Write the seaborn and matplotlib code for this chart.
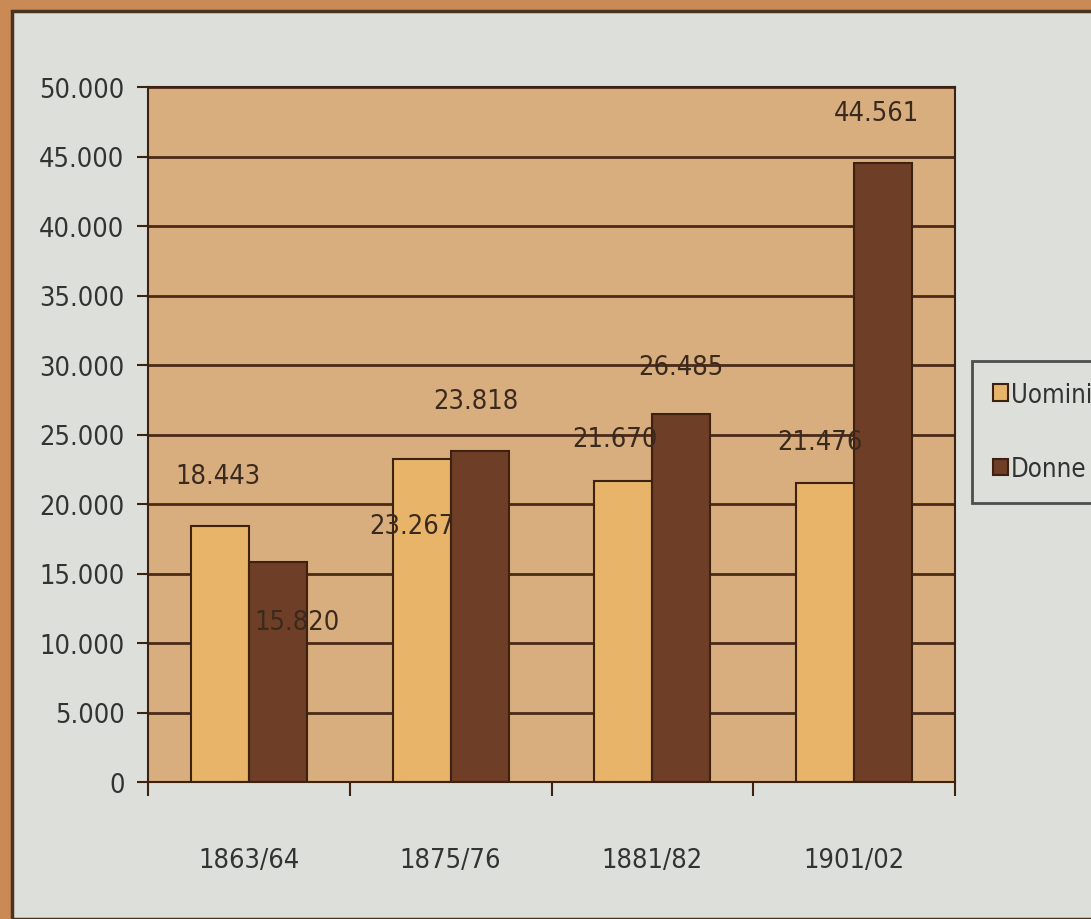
import matplotlib
matplotlib.use("Agg")
import matplotlib.pyplot as plt
import seaborn as sns
import pandas as pd
from matplotlib import font_manager
from matplotlib.patches import Rectangle
from matplotlib.ticker import FuncFormatter, FixedLocator

categories = ["1863/64", "1875/76", "1881/82", "1901/02"]
uomini = [18443, 23267, 21670, 21476]
donne = [15820, 23818, 26485, 44561]
series_names = ["Uomini", "Donne"]
y_ticks = [0, 5000, 10000, 15000, 20000, 25000, 30000, 35000, 40000, 45000, 50000]

# label offsets in pixels (dx, dy) relative to bar top centre
u_off = [(-2, 50), (-10, -67), (-8, 42), (-5, 41)]
d_off = [(19, -60), (-4, 50), (-1, 47), (-7, 50)]

sns.set_theme(style="white")

# pick a condensed face if one is installed
ttf = font_manager.fontManager.ttflist
names = {f.name for f in ttf}
fam = ['Liberation Sans', 'DejaVu Sans']
stretch = 'normal'
fs = 20
if 'Liberation Sans Narrow' in names:
    fam = ['Liberation Sans Narrow', 'DejaVu Sans']
    fs = 24
elif any(f.name == 'DejaVu Sans' and f.stretch in ('condensed', 'semi-condensed') for f in ttf):
    fam = ['DejaVu Sans']
    stretch = 'condensed'
    fs = 19.5
plt.rcParams['font.family'] = fam
plt.rcParams['font.stretch'] = stretch

df = pd.DataFrame({
    "Periodo": categories * 2,
    "Valore": uomini + donne,
    "Sesso": [series_names[0]] * 4 + [series_names[1]] * 4,
})

W, H = 1091, 920
fig = plt.figure(figsize=(W / 100, H / 100), dpi=100)
fig.patch.set_facecolor("#c98a55")
fig.patches.append(Rectangle((12 / W, 0), 1.2, 1 - 12 / H, transform=fig.transFigure,
                             facecolor="#dcdfda", edgecolor="#4a3320", linewidth=2.5, zorder=-10))

ax = fig.add_axes([148 / W, 137 / H, (955 - 148) / W, (783 - 88) / H])
ax.set_facecolor("#d8ae7f")
ax.set_axisbelow(True)

palette = {"Uomini": "#e8b46a", "Donne": "#6e3e26"}
sns.barplot(data=df, x="Periodo", y="Valore", hue="Sesso", order=categories,
            hue_order=series_names, palette=palette, width=0.575, saturation=1,
            edgecolor="#3d2212", linewidth=1.5, ax=ax, legend=True)

ax.set_ylim(0, 50000)
ax.set_xlim(-0.5, 3.5)
ax.yaxis.set_major_locator(FixedLocator(y_ticks))
ax.yaxis.set_major_formatter(FuncFormatter(lambda v, p: f"{int(v):,}".replace(",", ".")))
ax.grid(axis="y", color="#4a2a18", linewidth=2)
ax.grid(axis="x", visible=False)
ax.set_xlabel("")
ax.set_ylabel("")

ax.tick_params(axis="y", which="major", length=8, width=1.5, color="#3d2212",
               labelsize=fs, labelcolor="#333333", pad=9, left=True, direction="out")
ax.tick_params(axis="x", which="major", length=0, labelsize=fs, labelcolor="#333333", pad=47)
ax.set_xticks([-0.5, 0.5, 1.5, 2.5, 3.5], minor=True)
ax.tick_params(axis="x", which="minor", length=10, width=1.5, color="#3d2212",
               bottom=True, direction="out")

for s in ax.spines.values():
    s.set_color("#3d2212")
    s.set_linewidth(1.5)

def fmt(v):
    return f"{v:,}".replace(",", ".")

k = 72 / 100
for cont, offs in zip(ax.containers[:2], [u_off, d_off]):
    for bar, (dx, dy) in zip(cont, offs):
        x = bar.get_x() + bar.get_width() / 2
        h = bar.get_height()
        ax.annotate(fmt(int(round(h))), xy=(x, h), xytext=(dx * k, dy * k),
                    textcoords="offset points", ha="center", va="center",
                    fontsize=fs, color="#3a2a1e", zorder=5)

leg = ax.legend(loc="upper left", bbox_to_anchor=(972 / W, 1 - 362 / H),
                bbox_transform=fig.transFigure, fontsize=18.5, frameon=True,
                handlelength=0.6, handleheight=0.6, handletextpad=0.1,
                labelspacing=1.9, borderpad=0.8, borderaxespad=0, fancybox=False)
leg.get_frame().set_edgecolor("#2a2a2a")
leg.get_frame().set_linewidth(2)
leg.get_frame().set_facecolor("#dcdfda")
for t in leg.get_texts():
    t.set_color("#333333")

fig.savefig("out.png", dpi=100, facecolor=fig.get_facecolor())
